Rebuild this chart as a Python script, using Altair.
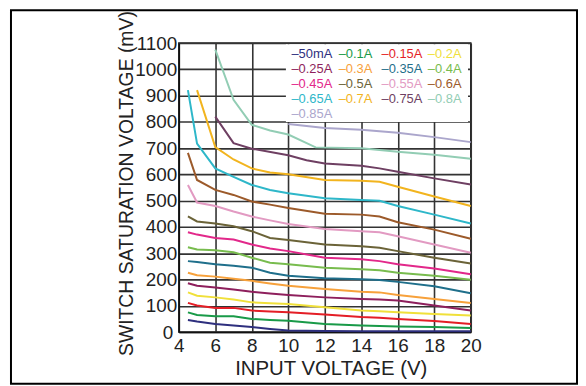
import altair as alt
import pandas as pd

# ---- series names and colours ----
names = ["50mA", "0.1A", "0.15A", "0.2A", "0.25A", "0.3A", "0.35A", "0.4A", "0.45A",
         "0.5A", "0.55A", "0.6A", "0.65A", "0.7A", "0.75A", "0.8A", "0.85A"]
colors = ["#2E2F7E", "#199A48", "#E41E26", "#F0E03A", "#8E1F5C", "#F7A13B", "#1F6F8B",
          "#78BC4E", "#E2288A", "#6B6338", "#E29AC2", "#9C5A2A", "#2EB7C9", "#F2B41E",
          "#6E3F62", "#92CDB4", "#ABA6CC"]

# ---- input voltage (V) sample points ----
x_a = [4.5, 5, 6, 7, 8, 9, 10, 12, 14, 15, 16, 18, 20]
x_b = [5, 6, 7, 8, 9, 10, 12, 14, 15, 16, 18, 20]
x_c = [6, 7, 8, 10, 11, 12, 14, 15, 16, 18, 20]
x_d = [6, 7, 8, 9, 10, 11.5, 14, 16, 18, 20]
x_e = [10, 12, 14, 16, 18, 20]

# ---- switch saturation voltage (mV) ----
v_50mA = [46, 40, 31, 25, 19, 12, 6, 4, 3, 3, 3, 3, 3]
v_010 = [75, 65, 60, 60, 50, 46, 43, 31, 25, 23, 21, 19, 15]
v_015 = [111, 101, 92, 92, 82, 78, 75, 67, 57, 54, 50, 42, 31]
v_020 = [151, 138, 132, 124, 113, 110, 107, 94, 82, 79, 75, 69, 63]
v_025 = [186, 176, 170, 162, 153, 147, 141, 132, 126, 124, 120, 101, 82]
v_030 = [226, 216, 211, 203, 195, 185, 176, 164, 153, 151, 141, 126, 111]
v_035 = [270, 267, 258, 252, 245, 226, 214, 205, 201, 198, 191, 174, 148]
v_040 = [323, 314, 311, 304, 283, 264, 258, 245, 239, 235, 226, 214, 199]
v_045 = [380, 371, 358, 352, 333, 318, 308, 283, 277, 270, 258, 242, 220]
v_050 = [440, 421, 413, 403, 384, 358, 350, 333, 327, 321, 308, 283, 261]
v_055 = [560, 493, 480, 459, 440, 425, 411, 392, 384, 380, 365, 333, 302]
v_060 = [682, 579, 541, 522, 497, 485, 472, 450, 447, 440, 418, 390, 355]
v_065 = [921, 717, 623, 591, 560, 541, 528, 509, 503, 500, 480, 447, 413]
v_070 = [921, 704, 657, 623, 607, 601, 579, 576, 572, 553, 516, 480]
v_075 = [820, 719, 698, 673, 654, 642, 633, 623, 610, 585, 562]
v_080 = [1075, 884, 789, 767, 752, 703, 700, 686, 675, 660]
v_085 = [792, 777, 770, 759, 742, 723]

series_x = [x_a] * 13 + [x_b, x_c, x_d, x_e]
series_v = [v_50mA, v_010, v_015, v_020, v_025, v_030, v_035, v_040, v_045,
            v_050, v_055, v_060, v_065, v_070, v_075, v_080, v_085]

rows = []
for name, xs, vs in zip(names, series_x, series_v):
    for xv, vv in zip(xs, vs):
        rows.append({"series": name, "x": xv, "v": vv})
df = pd.DataFrame(rows)

# ---- legend layout (data coordinates) ----
LEG_COL_X = [10.17, 12.76, 15.11, 17.65]
LEG_ROW_Y = [1057, 1001, 945, 887, 829]
leg = pd.DataFrame({
    "series": names,
    "label": ["\u2013" + n for n in names],
    "x": [LEG_COL_X[i % 4] for i in range(len(names))],
    "v": [LEG_ROW_Y[i // 4] for i in range(len(names))],
})
box = pd.DataFrame({"x": [9.87], "x2": [19.85], "v": [800], "v2": [1096]})

FONT = "Liberation Sans"
xscale = alt.Scale(domain=[4, 20], nice=False, zero=False)
yscale = alt.Scale(domain=[0, 1100], nice=False)
cscale = alt.Scale(domain=names, range=colors)

X_AX = alt.Axis(values=list(range(4, 21, 2)), title="INPUT VOLTAGE (V)", format="d",
                labelFontSize=19, titleFontSize=20.5, labelPadding=5, labelFlush=False,
                titlePadding=3)
Y_AX = alt.Axis(values=list(range(0, 1101, 100)), format="d",
                title="SWITCH SATURATION VOLTAGE (mV)", labelFlush=False,
                labelFontSize=19, titleFontSize=19.5,
                labelPadding={"condition": {"test": "datum.value == 0", "value": 6},
                              "value": 2},
                titlePadding=-2)

lines = alt.Chart(df).mark_line(strokeWidth=2).encode(
    x=alt.X("x:Q", scale=xscale, axis=X_AX),
    y=alt.Y("v:Q", scale=yscale, axis=Y_AX),
    color=alt.Color("series:N", scale=cscale, legend=None),
    detail="series:N",
)

legend_box = alt.Chart(box).mark_rect(fill="white", stroke=None).encode(
    x=alt.X("x:Q", scale=xscale, axis=X_AX),
    x2="x2:Q",
    y=alt.Y("v:Q", scale=yscale, axis=Y_AX),
    y2="v2:Q",
)

legend_text = alt.Chart(leg).mark_text(
    align="left", baseline="middle", fontSize=13, font=FONT
).encode(
    x=alt.X("x:Q", scale=xscale, axis=X_AX),
    y=alt.Y("v:Q", scale=yscale, axis=Y_AX),
    text="label:N",
    color=alt.Color("series:N", scale=cscale, legend=None),
)

frame = alt.Chart(pd.DataFrame({"a": [0]})).mark_rect(
    fill="transparent", stroke="black", strokeWidth=2
).encode(
    x=alt.value(-169), x2=alt.value(401), y=alt.value(-33), y2=alt.value(343)
)

chart = alt.layer(legend_box, lines, legend_text, frame).properties(
    width=294, height=291,
    padding={"left": 2, "top": 0, "right": 0, "bottom": 0},
).configure(
    font=FONT,
).configure_view(
    stroke="#222", strokeWidth=1.5,
).configure_axis(
    grid=True, gridColor="#333", gridWidth=1.6,
    domain=True, domainColor="#111", domainWidth=1.5,
    ticks=False, labelColor="#222", titleColor="#222",
    labelFont=FONT, titleFont=FONT, titleFontWeight="normal",
).configure_axisY(
    titleY=141,
).configure_axisX(
    titleX=153,
)

chart.save("out.html", embed_options={"renderer": "svg", "actions": False})
